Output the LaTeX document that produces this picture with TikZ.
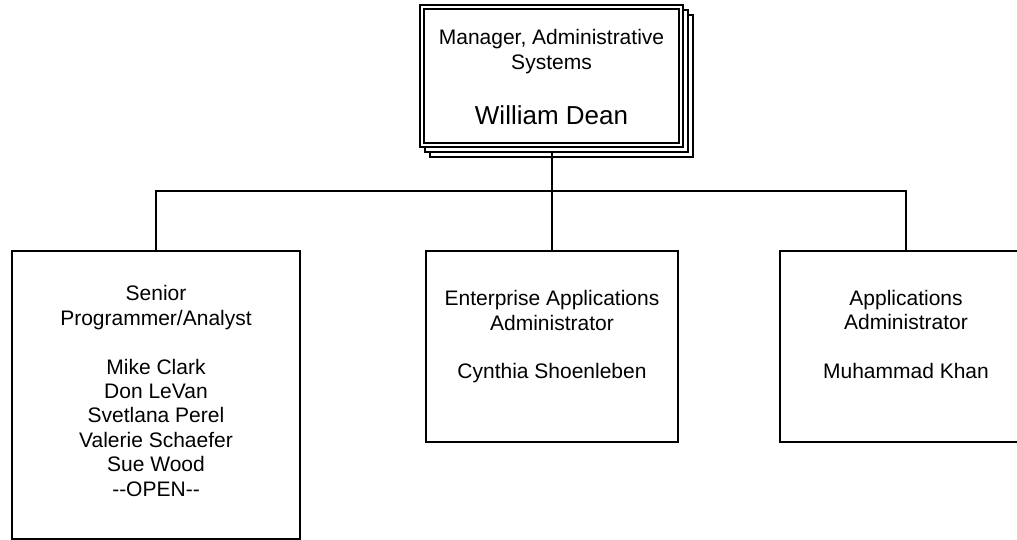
\documentclass[tikz,border=0pt]{standalone}
\usepackage{fontspec}
\setmainfont{Liberation Sans}
\begin{document}
\begin{tikzpicture}[x=1pt,y=-1pt,
  orgbox/.style={draw=black,line width=1.6pt,fill=white,rectangle,inner sep=0pt},
  layer/.style={draw=black,line width=1.3pt,fill=white,rectangle,inner sep=0pt},
  conn/.style={draw=black,line width=1.6pt},
  txt/.style={align=center,inner sep=0pt,font=\fontsize{21}{24.4}\selectfont},
  bigtxt/.style={align=center,inner sep=0pt,font=\fontsize{26}{30}\selectfont}]
\useasboundingbox (0,0) rectangle (1017,540);
\clip (0,0) rectangle (1017,540);
% manager box with stacked layers
\node[layer,minimum width=263pt,minimum height=142pt] (layerB) at (561.5,86) {};
\node[layer,minimum width=263pt,minimum height=142pt] (layerA) at (556.5,81) {};
\node[layer,minimum width=263pt,minimum height=142pt] (mgr) at (551.5,76) {};
\node[layer,minimum width=255pt,minimum height=134pt] (mgrin) at (551.5,76) {};
\node[txt] (mgrtitle) at (551.5,51.7) {Manager, Administrative\\Systems};
\node[bigtxt] (mgrname) at (551.5,115) {William Dean};
% subordinate boxes
\node[orgbox,minimum width=288pt,minimum height=288pt] (sp) at (156,395) {};
\node[orgbox,minimum width=252pt,minimum height=191pt] (ea) at (552,346.5) {};
\node[orgbox,minimum width=252pt,minimum height=191pt] (aa) at (906,346.5) {};
\node[txt] (sptext) at (156,391) {Senior\\Programmer/Analyst\\[24.4pt]Mike Clark\\Don LeVan\\Svetlana Perel\\Valerie Schaefer\\Sue Wood\\{-}{-}OPEN{-}{-}};
\node[txt] (eatext) at (552,336.8) {Enterprise Applications\\Administrator\\[24.4pt]Cynthia Shoenleben};
\node[txt] (aatext) at (906,334.5) {Applications\\Administrator\\[24.4pt]Muhammad Khan};
% connectors
\coordinate (bus) at (552,191);
\draw[conn] (bus) -- ([yshift=-3pt]bus |- mgr.south);
\draw[conn] (bus) -- (ea.north);
\draw[conn] (sp.north) |- (bus);
\draw[conn] (aa.north) |- (bus);
\end{tikzpicture}
\end{document}
